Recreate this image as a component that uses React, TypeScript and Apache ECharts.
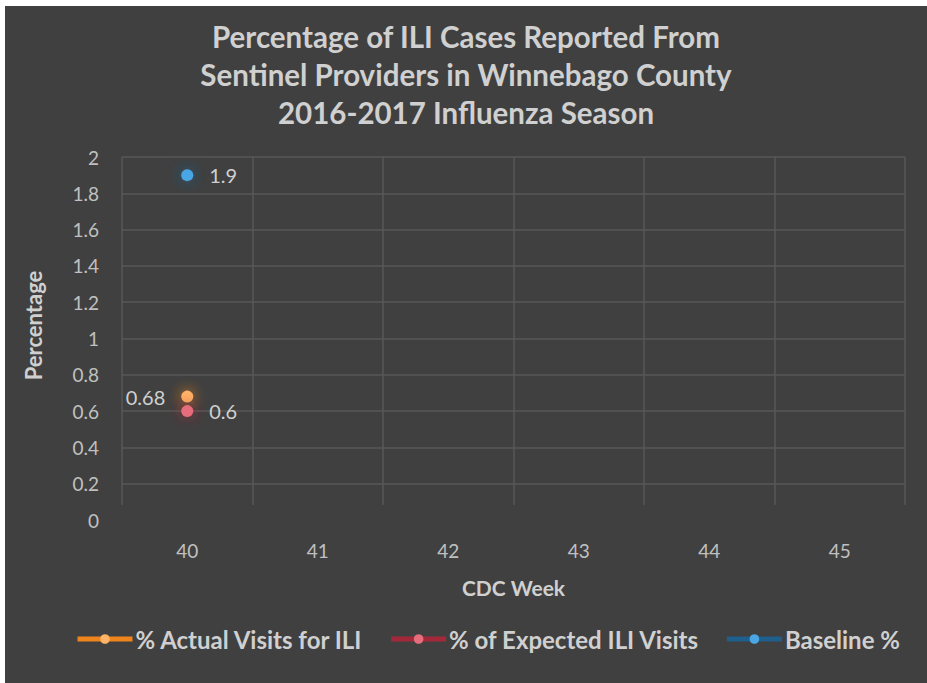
import React, { useEffect, useRef } from "react";
import * as echarts from "echarts";

const weeks = ["40", "41", "42", "43", "44", "45"];
const actualVisits = [0.68, null, null, null, null, null];
const expectedVisits = [0.6, null, null, null, null, null];
const baseline = [1.9, null, null, null, null, null];
const yTicks = { min: 0, max: 2, interval: 0.2 };
const titleLines = [
  "Percentage of ILI Cases Reported From",
  "Sentinel Providers in Winnebago County",
  "2016-2017 Influenza Season",
];

const FONT = "Lato, 'Open Sans', sans-serif";
const TXT = "#d0d0d0";
const GRIDLINE = "#575757";

export default function App() {
  const ref = useRef<HTMLDivElement>(null);
  useEffect(() => {
    const chart = echarts.init(ref.current!, null, { renderer: "svg" });
    const mk = (
      name: string,
      data: (number | null)[],
      line: string,
      fill: string,
      pos: string
    ) => ({
      name,
      type: "line",
      data,
      symbol: "circle",
      symbolSize: 12,
      showSymbol: true,
      lineStyle: { color: line, width: 5 },
      itemStyle: {
        color: fill,
        shadowBlur: 14,
        shadowColor: line,
      },
      label: {
        show: true,
        position: pos,
        distance: 16,
        color: TXT,
        fontSize: 20,
        fontFamily: FONT,
      },
    });
    chart.setOption({
      animation: false,
      backgroundColor: "#404040",
      textStyle: { fontFamily: FONT },
      title: {
        text: titleLines.join("\n"),
        left: "center",
        top: 6,
        textStyle: {
          color: TXT,
          fontSize: 29.5,
          fontWeight: "bold",
          lineHeight: 38,
          fontFamily: FONT,
        },
      },
      grid: [
        { left: 117, right: 22, top: 151, bottom: 163 },
        { left: 117, right: 22, top: 151, bottom: 178 },
      ],
      legend: {
        bottom: 27,
        left: 65,
        itemWidth: 55,
        itemHeight: 12,
        itemGap: 25,
        lineStyle: { width: 5 },
        textStyle: {
          color: TXT,
          fontSize: 24,
          fontWeight: "bold",
          fontFamily: FONT,
          padding: [0, 0, 0, -2],
        },
        data: [
          "% Actual Visits for ILI",
          "% of Expected ILI Visits",
          "Baseline %",
        ],
      },
      xAxis: [
        {
          type: "category",
          data: weeks,
          boundaryGap: true,
          name: "CDC Week",
          nameLocation: "middle",
          nameGap: 57,
          nameTextStyle: {
            color: TXT,
            fontSize: 21,
            fontWeight: "bold",
            fontFamily: FONT,
          },
          axisLine: { show: false },
          axisTick: { show: false },
          axisLabel: { color: "#c0c0c0", fontSize: 19, margin: 21, fontFamily: FONT },
          splitLine: { show: false },
        },
        {
          type: "category",
          gridIndex: 1,
          data: weeks,
          boundaryGap: true,
          axisLine: { show: false },
          axisTick: { show: false },
          axisLabel: { show: false },
          splitLine: { show: true, lineStyle: { color: GRIDLINE, width: 1.5 } },
        },
      ],
      yAxis: [
        {
          type: "value",
          min: yTicks.min,
          max: yTicks.max,
          interval: yTicks.interval,
          name: "Percentage",
          nameLocation: "middle",
          nameGap: 78,
          nameTextStyle: {
            color: TXT,
            fontSize: 22,
            fontWeight: "bold",
            fontFamily: FONT,
            padding: [0, 0, 0, 26],
          },
          axisLine: { show: false },
          axisTick: { show: false },
          axisLabel: { color: "#c0c0c0", fontSize: 19, margin: 23, fontFamily: FONT },
          splitLine: {
            show: true,
            showMinLine: false,
            lineStyle: { color: GRIDLINE, width: 1.5 },
          },
        },
        {
          type: "value",
          gridIndex: 1,
          min: 0,
          max: 1,
          show: false,
          splitLine: { show: false },
        },
      ],
      series: [
        mk("% Actual Visits for ILI", actualVisits, "#f0841c", "#ffb366", "left"),
        mk("% of Expected ILI Visits", expectedVisits, "#a3283a", "#e56d7c", "right"),
        mk("Baseline %", baseline, "#1f5f8e", "#4aa6e4", "right"),
      ],
    });
    return () => chart.dispose();
  }, []);
  return (
    <div
      ref={ref}
      style={{ position: "absolute", left: 5, top: 6, width: 922, height: 677 }}
    />
  );
}
